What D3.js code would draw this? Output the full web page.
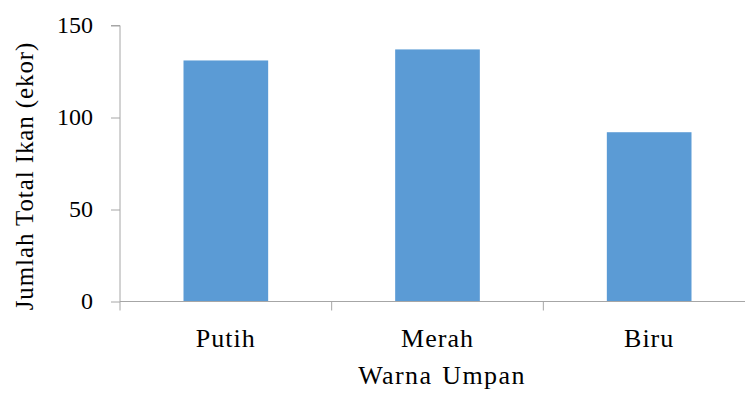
<!DOCTYPE html>
<html>
<head>
<meta charset="utf-8">
<script src="https://cdn.jsdelivr.net/npm/d3@7"></script>
<style>
  html, body { margin: 0; padding: 0; background: #fff; }
  svg { display: block; }
  text { font-family: "Liberation Serif", "DejaVu Serif", serif; fill: #000; }
  .cat { font-size: 26px; letter-spacing: 1px; }
  .xtitle { font-size: 26px; letter-spacing: 1.4px; word-spacing: 2px; }
  .ytitle { font-size: 25px; letter-spacing: 0.9px; }
</style>
</head>
<body>
<svg id="chart" width="745" height="394"></svg>
<script>
// Jumlah ikan per warna umpan
const categories = ["Putih", "Merah", "Biru"];
const values = [131, 137, 92];
const yTicks = [0, 50, 100, 150];
const xTitle = "Warna Umpan";
const yTitle = "Jumlah Total Ikan (ekor)";

const svg = d3.select("#chart");
const plotLeft = 120, plotRight = 755, plotTop = 25.5, plotBottom = 301.5;
const axisColor = "#a6a6a6";

const x = d3.scaleBand().domain(categories).range([plotLeft, plotRight]).paddingInner(0.6).paddingOuter(0.3);
const y = d3.scaleLinear().domain([0, 150]).range([plotBottom, plotTop]);

// bars
svg.append("g").selectAll("rect")
  .data(values)
  .join("rect")
  .attr("x", (d, i) => x(categories[i]))
  .attr("y", d => y(d))
  .attr("width", x.bandwidth())
  .attr("height", d => y(0) - y(d))
  .attr("fill", "#5b9bd5");

// y axis
const yAxis = svg.append("g")
  .attr("transform", `translate(${plotLeft},0)`)
  .call(d3.axisLeft(y).tickValues(yTicks).tickSize(9).tickPadding(18));
yAxis.select(".domain").attr("stroke", axisColor).attr("d", `M-9,${plotTop}H0V${plotBottom}`);
yAxis.selectAll(".tick line").attr("stroke", axisColor);
yAxis.selectAll(".tick text").style("font-size", "24px").attr("dy", "0.3em");

// x axis with boundaries between categories
const xAxis = svg.append("g").attr("transform", `translate(0,${plotBottom})`);
xAxis.append("line").attr("x1", plotLeft).attr("x2", plotRight).attr("stroke", axisColor);
const step = x.step();
const bounds = d3.range(categories.length + 1).map(i => plotLeft + i * step);
xAxis.selectAll("line.b").data(bounds).join("line").attr("class", "b")
  .attr("x1", d => d).attr("x2", d => d).attr("y1", 0).attr("y2", 9)
  .attr("stroke", axisColor);
xAxis.selectAll("text").data(categories).join("text")
  .attr("class", "cat")
  .attr("x", d => x(d) + x.bandwidth() / 2)
  .attr("y", 45)
  .attr("text-anchor", "middle")
  .text(d => d);

// axis titles
svg.append("text")
  .attr("class", "xtitle")
  .attr("x", 442)
  .attr("y", 384)
  .attr("text-anchor", "middle")
  .text(xTitle);

svg.append("text")
  .attr("class", "ytitle")
  .attr("transform", `translate(33,176) rotate(-90)`)
  .attr("text-anchor", "middle")
  .text(yTitle);
</script>
</body>
</html>
